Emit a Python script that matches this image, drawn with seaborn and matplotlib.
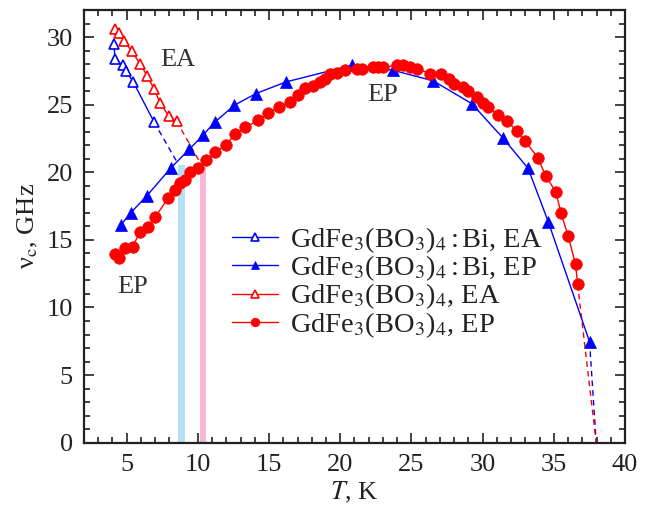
import numpy as np
import pandas as pd
import matplotlib
matplotlib.use("Agg")
import matplotlib.pyplot as plt
from matplotlib.ticker import MultipleLocator
import seaborn as sns

# GdFe3(BO3)4:Bi, easy-axis (EA) phase
bi_ea_T = [4.11, 4.18, 4.76, 4.93, 5.46, 6.92]
bi_ea_v = [29.47, 28.34, 27.90, 27.50, 26.68, 23.72]

# GdFe3(BO3)4:Bi, easy-plane (EP) phase
bi_ep_T = [4.58, 5.28, 6.40, 8.12, 9.39, 10.38, 11.20, 12.57, 14.08, 16.19,
           20.80, 23.72, 26.53, 29.23, 31.40, 33.20, 34.61, 37.51]
bi_ep_v = [16.09, 17.00, 18.24, 20.34, 21.69, 22.77, 23.72, 24.96, 25.82, 26.68,
           27.91, 27.54, 26.76, 25.08, 22.57, 20.28, 16.34, 7.47]

# GdFe3(BO3)4, easy-axis (EA) phase
gd_ea_T = [4.18, 4.48, 4.83, 5.35, 5.93, 6.45, 6.92, 7.34, 7.97, 8.51]
gd_ea_v = [30.63, 30.30, 29.71, 28.95, 28.04, 27.10, 26.17, 25.13, 24.14, 23.77]

# GdFe3(BO3)4, easy-plane (EP) phase
gd_ep_T = [4.18, 4.48, 4.88, 5.42, 5.93, 6.52, 6.99, 7.92, 8.39, 8.74,
           9.09, 9.44, 10.01, 10.60, 11.23, 11.97, 12.60, 13.31, 14.24, 14.94,
           15.71, 16.47, 17.05, 17.52, 18.10, 18.57, 18.92, 19.28, 19.75, 20.33,
           21.15, 21.50, 22.32, 22.67, 23.02, 23.96, 24.42, 24.89, 25.36, 26.30,
           27.07, 27.63, 28.00, 28.64, 28.99, 29.62, 30.04, 30.39, 31.09, 31.73,
           32.39, 32.99, 33.86, 34.44, 35.15, 35.50, 36.01, 36.53, 36.67]
gd_ep_v = [13.95, 13.63, 14.37, 14.49, 15.59, 15.92, 16.66, 18.11, 18.68, 19.17,
           19.42, 20.01, 20.34, 20.89, 21.52, 22.00, 22.82, 23.31, 23.85, 24.39,
           24.83, 25.20, 25.75, 26.22, 26.36, 26.68, 26.93, 27.25, 27.35, 27.55,
           27.60, 27.60, 27.79, 27.79, 27.75, 27.92, 27.92, 27.79, 27.67, 27.30,
           27.25, 26.93, 26.56, 26.27, 26.02, 25.53, 25.13, 24.79, 24.22, 23.78,
           23.06, 22.32, 21.09, 19.73, 18.53, 17.00, 15.28, 13.19, 11.73]

# Dashed extrapolations
bi_ea_ext_T = [6.92, 8.62]
bi_ea_ext_v = [23.72, 20.60]
gd_ea_ext_T = [8.51, 10.30]
gd_ea_ext_v = [23.77, 20.45]
bi_ep_ext_T = [37.51, 37.98]
bi_ep_ext_v = [7.47, 0.0]
gd_ep_ext_T = [36.67, 37.98]
gd_ep_ext_v = [11.73, 0.0]

# Transition regions (T range, upper frequency)
bi_band = (8.6, 9.1, 20.5)
gd_band = (10.15, 10.55, 20.4)

sns.set_theme(style="ticks")
plt.rcParams["font.family"] = ["Liberation Serif", "DejaVu Serif"]
plt.rcParams["mathtext.fontset"] = "stix"

FS = 19
fig = plt.figure(figsize=(6.49, 5.07), dpi=100)
ax = fig.add_axes([0.1294, 0.1268, 0.8336, 0.8535])

BLUE = "#0000ff"
RED = "#ff0000"

ax.fill_betweenx([0, bi_band[2]], bi_band[0], bi_band[1], color="#b3e1f7", lw=0, zorder=1)
ax.fill_betweenx([0, gd_band[2]], gd_band[0], gd_band[1], color="#f9b5da", lw=0, zorder=1)

ax.plot(bi_ea_ext_T, bi_ea_ext_v, color=BLUE, lw=1.0, ls=(0, (4, 3)), zorder=2)
ax.plot(gd_ea_ext_T, gd_ea_ext_v, color=RED, lw=1.0, ls=(0, (4, 3)), zorder=2)
ax.plot(bi_ep_ext_T, bi_ep_ext_v, color=BLUE, lw=1.0, ls=(0, (4, 3)), zorder=2)
ax.plot(gd_ep_ext_T, gd_ep_ext_v, color=RED, lw=1.0, ls=(0, (4, 3)), zorder=2)

lab_bi_ea = r"GdFe$_3$(BO$_3$)$_4\,$:$\,$Bi, EA"
lab_bi_ep = r"GdFe$_3$(BO$_3$)$_4\,$:$\,$Bi, EP"
lab_gd_ea = r"GdFe$_3$(BO$_3$)$_4$, EA"
lab_gd_ep = r"GdFe$_3$(BO$_3$)$_4$, EP"

sns.lineplot(x=bi_ea_T, y=bi_ea_v, ax=ax, sort=False, color=BLUE, lw=1.0,
             marker="^", markersize=7.5, markerfacecolor="white",
             markeredgecolor=BLUE, markeredgewidth=1.2, label=lab_bi_ea, zorder=3)
sns.lineplot(x=bi_ep_T, y=bi_ep_v, ax=ax, sort=False, color=BLUE, lw=1.0,
             marker="^", markersize=8.5, markerfacecolor=BLUE,
             markeredgecolor=BLUE, markeredgewidth=0.5, label=lab_bi_ep, zorder=3)
sns.lineplot(x=gd_ea_T, y=gd_ea_v, ax=ax, sort=False, color=RED, lw=1.0,
             marker="^", markersize=7.5, markerfacecolor="white",
             markeredgecolor=RED, markeredgewidth=1.2, label=lab_gd_ea, zorder=3)
sns.lineplot(x=gd_ep_T, y=gd_ep_v, ax=ax, sort=False, color=RED, lw=1.0,
             marker="o", markersize=8.3, markerfacecolor=RED,
             markeredgecolor=RED, markeredgewidth=0.5, label=lab_gd_ep, zorder=4)

ax.set_xlim(2, 40)
ax.set_ylim(0, 32)
ax.xaxis.set_major_locator(MultipleLocator(5))
ax.xaxis.set_minor_locator(MultipleLocator(1))
ax.yaxis.set_major_locator(MultipleLocator(5))
ax.yaxis.set_minor_locator(MultipleLocator(1))
ax.tick_params(which="both", direction="in", top=True, right=True,
               labelsize=FS, colors="#222222", width=1.2)
ax.tick_params(which="major", length=7, pad=8)
ax.tick_params(which="minor", length=4)
for s in ax.spines.values():
    s.set_linewidth(1.6)
    s.set_color("#222222")

ax.set_xlabel(r"$T$, K", fontsize=FS, color="#222222", labelpad=3)
ax.set_ylabel(r"ν$_\mathrm{c}$, GHz", fontsize=FS, color="#222222", labelpad=5)

ax.text(8.6, 28.3, "EA", fontsize=FS, color="#333333", ha="center", va="center")
ax.text(23.0, 25.7, "EP", fontsize=FS, color="#333333", ha="center", va="center")
ax.text(5.4, 11.5, "EP", fontsize=FS, color="#333333", ha="center", va="center")

leg = ax.legend(loc="upper left", bbox_to_anchor=(0.274, 0.503), frameon=False,
                fontsize=20.5, handlelength=1.6, handletextpad=0.42,
                labelspacing=-0.05, markerscale=0.75, borderaxespad=0,
                borderpad=0)
for t in leg.get_texts():
    t.set_color("#222222")

fig.savefig("out.png", dpi=100)
